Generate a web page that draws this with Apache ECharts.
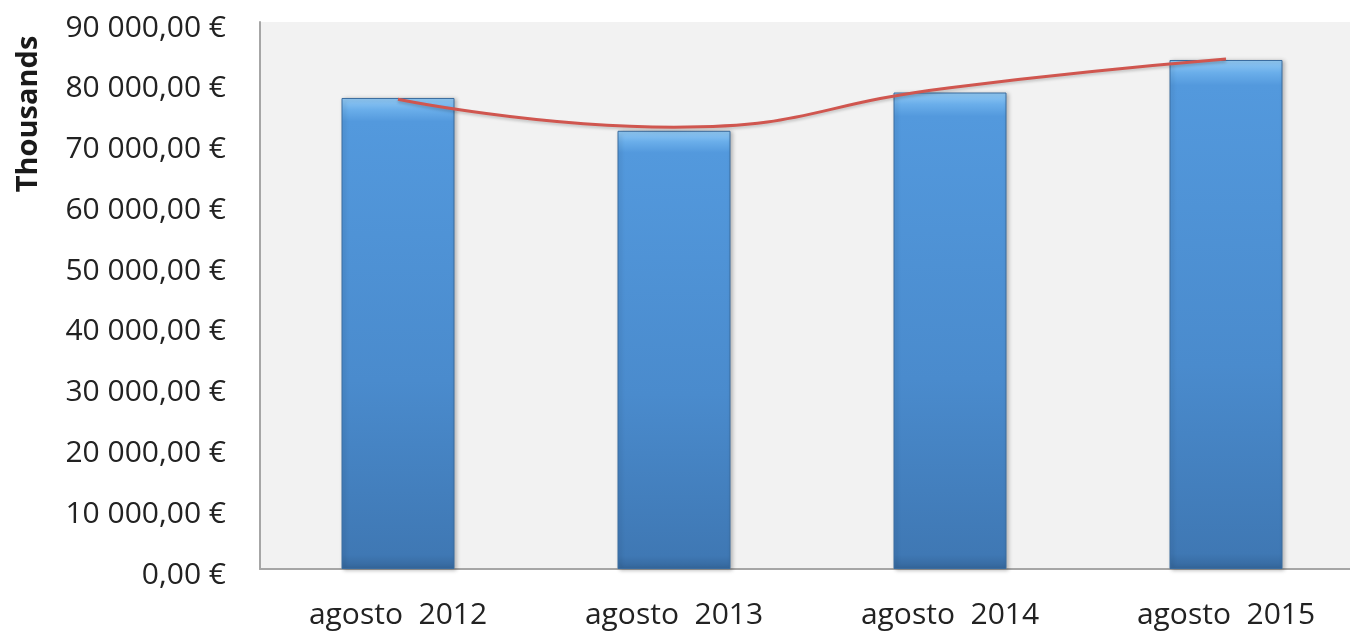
<!DOCTYPE html>
<html>
<head>
<meta charset="utf-8">
<script src="https://cdn.jsdelivr.net/npm/echarts@6/dist/echarts.min.js"></script>
<style>
  html, body { margin: 0; padding: 0; background: #fff; }
  #chart { width: 1350px; height: 635px; }
</style>
</head>
<body>
<div id="chart"></div>
<script>
// dati (migliaia di euro)
const categories = ['agosto  2012', 'agosto  2013', 'agosto  2014', 'agosto  2015']
const barValues = [77500, 72100, 78400, 83750]
const trendValues = [77300, 72700, 79200, 83900]
const yTicks = { min: 0, max: 90000, interval: 10000 }

const euro = (v) => String(v).replace(/\B(?=(\d{3})+(?!\d))/g, ' ') + ',00 €'

const chart = echarts.init(document.getElementById('chart'))
chart.setOption({
  animation: false,
  grid: {
    left: 260,
    top: 22,
    bottom: 66,
    right: -14,
    outerBoundsMode: 'none',
    show: true,
    backgroundColor: '#f2f2f2',
    borderWidth: 0
  },
  graphic: [{
    type: 'text',
    x: 29,
    y: 114,
    rotation: Math.PI / 2,
    style: {
      text: 'Thousands',
      font: 'bold 29px "Open Sans"',
      fill: '#1a1a1a',
      align: 'center',
      verticalAlign: 'middle'
    }
  }],
  xAxis: {
    type: 'category',
    data: categories,
    axisTick: { show: false },
    axisLine: { lineStyle: { color: '#a6a6a6', width: 2 } },
    axisLabel: {
      margin: 31,
      fontSize: 30,
      fontFamily: 'Open Sans',
      color: '#222'
    }
  },
  yAxis: {
    type: 'value',
    min: yTicks.min,
    max: yTicks.max,
    interval: yTicks.interval,
    axisLine: { show: true, lineStyle: { color: '#a6a6a6', width: 2 } },
    axisTick: { show: false },
    splitLine: { show: false },
    axisLabel: {
      margin: 34,
      fontSize: 30,
      fontFamily: 'Open Sans',
      color: '#222',
      verticalAlign: 'top',
      lineHeight: 12,
      formatter: euro
    }
  },
  series: [
    {
      type: 'bar',
      data: barValues,
      barWidth: 113,
      itemStyle: {
        color: {
          type: 'linear', x: 0, y: 0, x2: 0, y2: 1,
          colorStops: [
            { offset: 0, color: '#94cbf5' },
            { offset: 0.025, color: '#6aaeea' },
            { offset: 0.05, color: '#5399dd' },
            { offset: 0.6, color: '#4a8bcd' },
            { offset: 0.97, color: '#3f78b4' },
            { offset: 1, color: '#35679c' }
          ]
        },
        borderColor: '#3a6c9f',
        borderWidth: 1,
        shadowColor: 'rgba(0,0,0,0.25)',
        shadowBlur: 4,
        shadowOffsetX: 2,
        shadowOffsetY: 1
      }
    },
    {
      type: 'line',
      data: trendValues,
      smooth: 0.5,
      showSymbol: false,
      lineStyle: {
        color: '#d0564f',
        width: 3,
        shadowColor: 'rgba(0,0,0,0.2)',
        shadowBlur: 3,
        shadowOffsetY: 2
      },
      z: 5
    }
  ]
})
</script>
</body>
</html>
